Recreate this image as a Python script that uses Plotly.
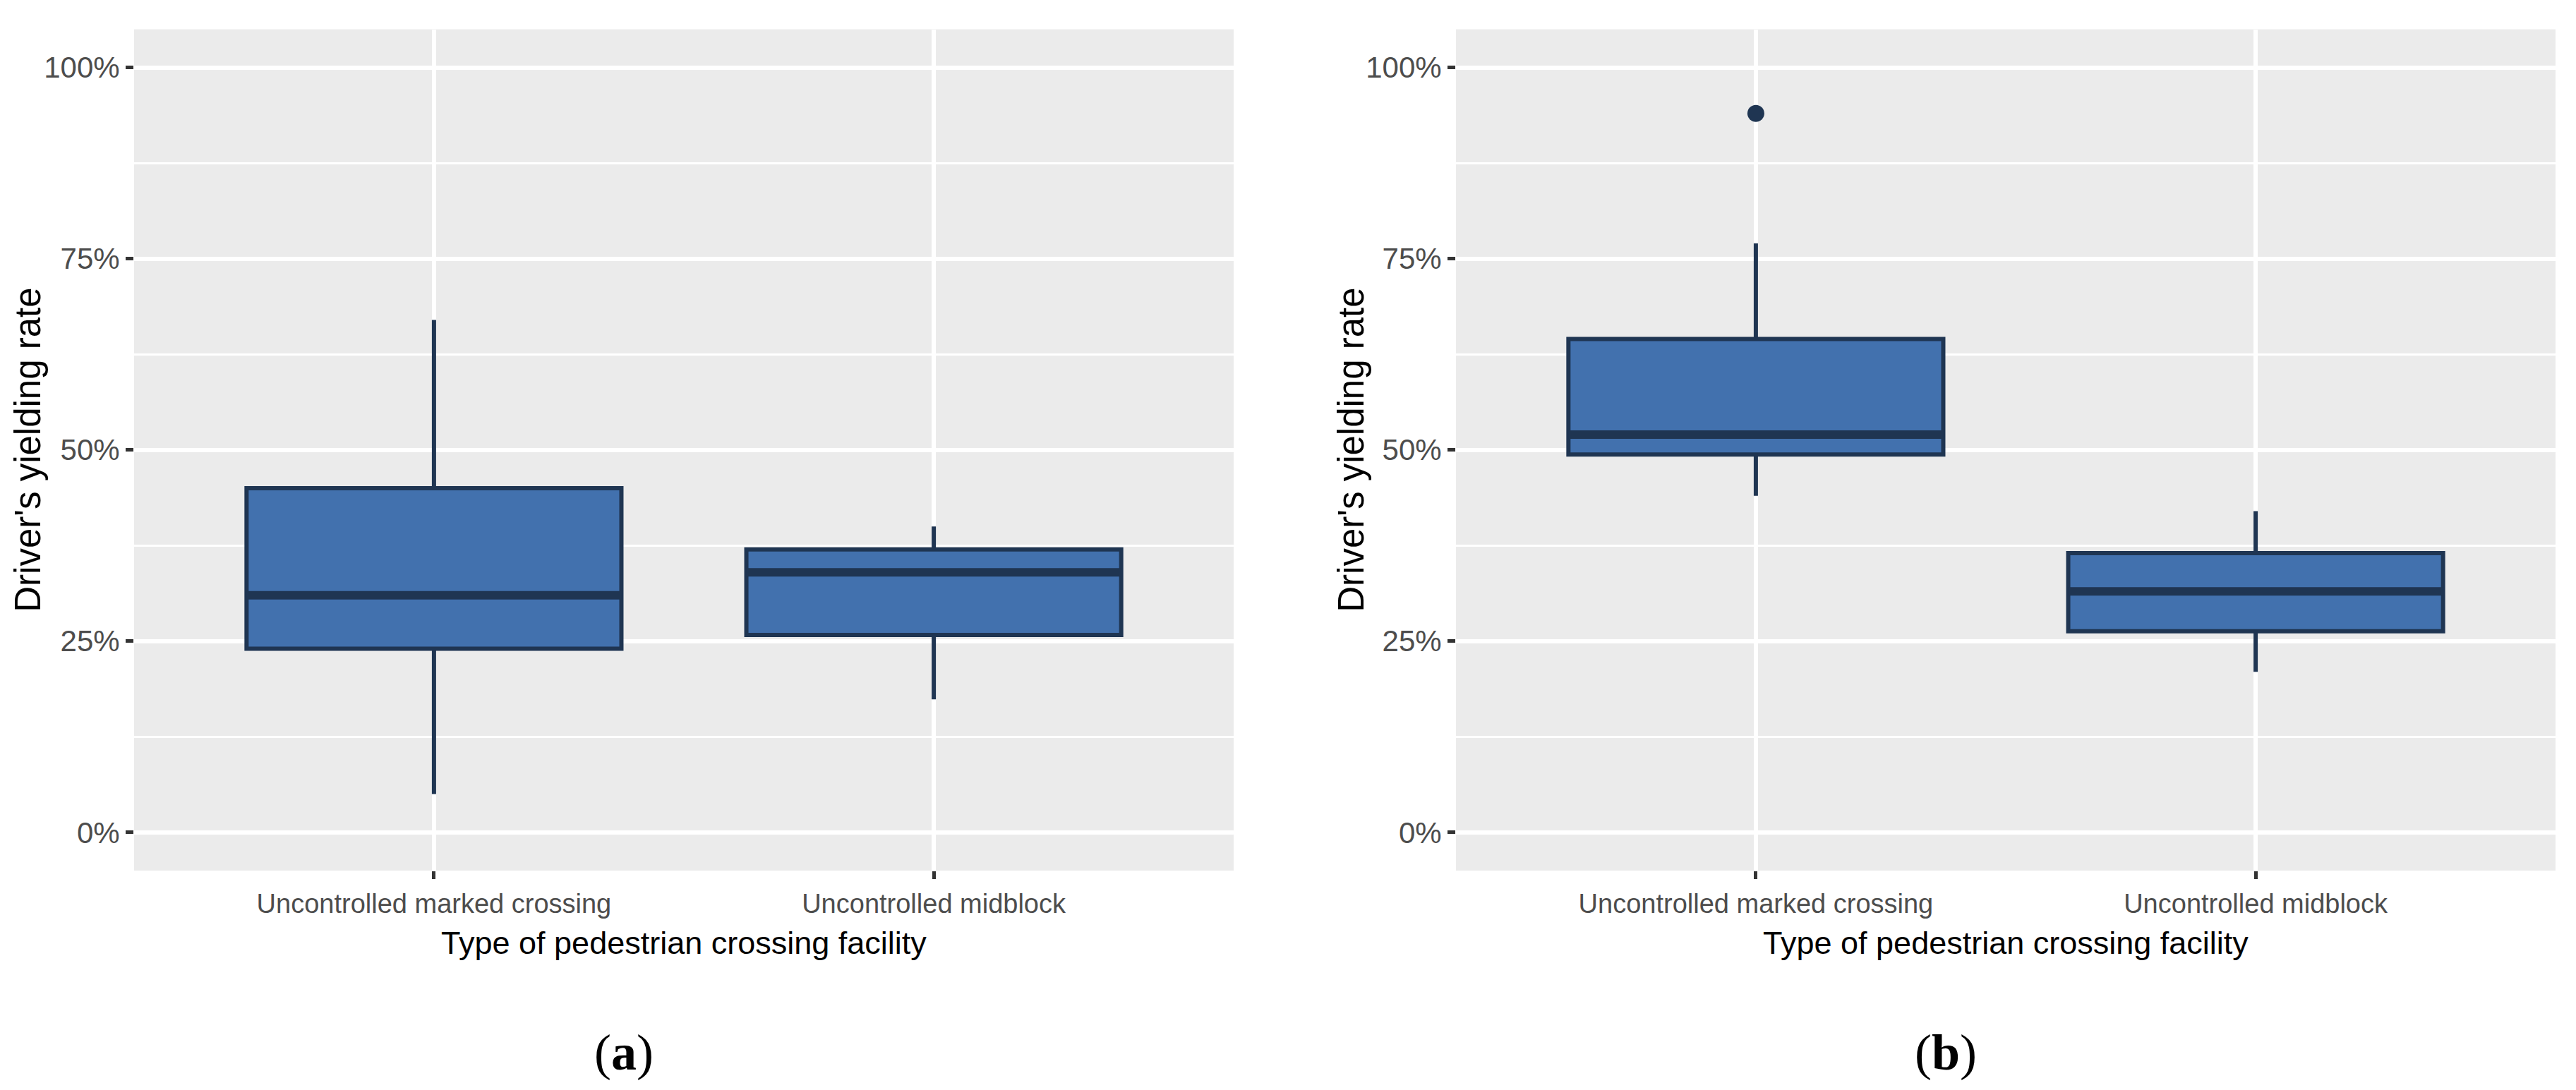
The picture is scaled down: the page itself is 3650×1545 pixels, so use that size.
import plotly.graph_objects as go
from plotly.subplots import make_subplots

# ---- data ----
categories = ["Uncontrolled marked crossing", "Uncontrolled midblock"]
y_tick_vals = [0, 0.25, 0.5, 0.75, 1.0]

# panel (a)
a_lower = [0.05, 0.174]
a_q1 = [0.240, 0.258]
a_median = [0.310, 0.340]
a_q3 = [0.450, 0.370]
a_upper = [0.670, 0.400]

# panel (b)
b_lower = [0.440, 0.210]
b_q1 = [0.494, 0.263]
b_median = [0.520, 0.315]
b_q3 = [0.645, 0.365]
b_upper = [0.770, 0.420]
b_outlier_cat = [0]          # index of category
b_outlier_val = [0.940]

panel_labels = ["(<b>a</b>)", "(<b>b</b>)"]
x_title = "Type of pedestrian crossing facility"
y_title = "Driver's yielding rate"

# ---- styles ----
W, H = 3650, 1545
FILL = "#4271AE"
LINE = "#1F3552"
BG = "#EBEBEB"
TICKCOL = "#4D4D4D"
BOX_W = 0.75
NARROW = "Liberation Sans Narrow, Arial Narrow, Liberation Sans, Arial, sans-serif"
REGULAR = "Liberation Sans, Arial, sans-serif"
SERIF = "Liberation Serif, Times New Roman, serif"

positions = [i + 1 for i in range(len(categories))]

fig = make_subplots(rows=1, cols=2)

panels = [
    (a_lower, a_q1, a_median, a_q3, a_upper, [], []),
    (b_lower, b_q1, b_median, b_q3, b_upper, b_outlier_cat, b_outlier_val),
]

for col, (lo, q1, med, q3, up, ocat, oval) in enumerate(panels, start=1):
    fig.add_trace(go.Box(
        x=positions, q1=q1, median=med, q3=q3, lowerfence=lo, upperfence=up,
        width=BOX_W, whiskerwidth=0, boxpoints=False,
        fillcolor=FILL, line=dict(color=LINE, width=6),
        showlegend=False, hoverinfo="skip",
    ), row=1, col=col)
    # thicker median bar, as in ggplot
    mx, my = [], []
    for p, m in zip(positions, med):
        mx += [p - BOX_W / 2, p + BOX_W / 2, None]
        my += [m, m, None]
    fig.add_trace(go.Scatter(
        x=mx, y=my, mode="lines", line=dict(color=LINE, width=12),
        showlegend=False, hoverinfo="skip",
    ), row=1, col=col)
    if oval:
        fig.add_trace(go.Scatter(
            x=[positions[i] for i in ocat], y=oval, mode="markers",
            marker=dict(color=LINE, size=24),
            showlegend=False, hoverinfo="skip",
        ), row=1, col=col)

x_domains = [[190 / W, 1748 / W], [2063 / W, 3621 / W]]
y_domain = [1 - 1234 / H, 1 - 41.5 / H]

for i in range(2):
    xa = "xaxis" if i == 0 else "xaxis2"
    ya = "yaxis" if i == 0 else "yaxis2"
    fig.layout[xa].update(
        domain=x_domains[i], range=[0.4, 2.6],
        tickmode="array", tickvals=positions, ticktext=categories,
        showgrid=True, gridcolor="white", gridwidth=6, zeroline=False,
        ticks="outside", ticklen=11, tickwidth=5, tickcolor="#333333",
        tickfont=dict(family=NARROW, size=38, color=TICKCOL),
        ticklabelstandoff=2, showline=False,
    )
    fig.layout[ya].update(
        domain=y_domain, range=[-0.05, 1.05],
        tickmode="array", tickvals=y_tick_vals, tickformat=".0%",
        showgrid=True, gridcolor="white", gridwidth=6, zeroline=False,
        minor=dict(dtick=0.125, tick0=0, showgrid=True, gridcolor="white", gridwidth=3),
        ticks="outside", ticklen=11, tickwidth=5, tickcolor="#333333",
        tickfont=dict(family=NARROW, size=42, color=TICKCOL),
        ticklabelstandoff=0, showline=False,
    )

annotations = []
for i in range(2):
    xc = (x_domains[i][0] + x_domains[i][1]) / 2
    annotations.append(dict(
        text=x_title, xref="paper", yref="paper", x=xc, y=1 - 1336 / H,
        xanchor="center", yanchor="middle", showarrow=False,
        font=dict(family=NARROW, size=45, color="black"),
    ))
    annotations.append(dict(
        text=y_title, xref="paper", yref="paper",
        x=(40 + i * 1875) / W, y=(y_domain[0] + y_domain[1]) / 2,
        xanchor="center", yanchor="middle", textangle=-90, showarrow=False,
        font=dict(family=REGULAR, size=51, color="black"),
    ))
for lbl, xc in zip(panel_labels, [884, 2757]):
    annotations.append(dict(
        text=lbl, xref="paper", yref="paper", x=xc / W, y=1 - 1492 / H,
        xanchor="center", yanchor="middle", showarrow=False,
        font=dict(family=SERIF, size=72, color="black"),
    ))

fig.update_layout(
    width=W, height=H,
    margin=dict(l=0, r=0, t=0, b=0),
    paper_bgcolor="white", plot_bgcolor=BG,
    annotations=annotations,
    showlegend=False,
)

fig.write_html("out.html", config={"displayModeBar": False},
               post_script="document.body.style.margin='0';")
